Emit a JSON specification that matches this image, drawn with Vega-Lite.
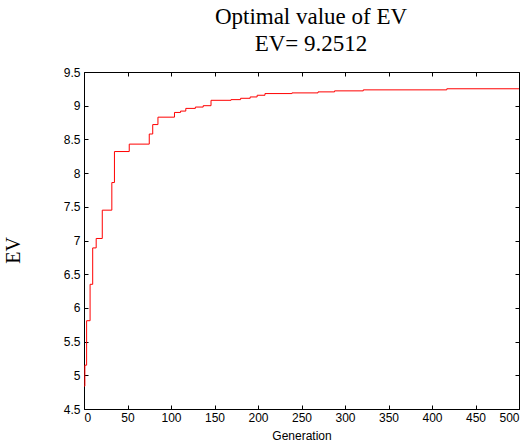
{
  "$schema": "https://vega.github.io/schema/vega-lite/v6.json",
  "width": 435,
  "height": 337,
  "autosize": {"type": "none"},
  "padding": {"left": 84, "top": 72, "right": 11, "bottom": 32},
  "background": "white",
  "title": {
    "text": ["Optimal value of EV", "EV= 9.2512"],
    "font": "Liberation Serif",
    "fontSize": 23,
    "fontWeight": "normal",
    "color": "black",
    "anchor": "middle",
    "dx": 9.5,
    "lineHeight": 27,
    "offset": 10
  },
  "config": {
    "view": {"stroke": null},
    "axis": {
      "domainColor": "black",
      "domainWidth": 1,
      "tickColor": "black",
      "tickSize": -4,
      "tickWidth": 1,
      "grid": false,
      "labelFont": "Liberation Sans",
      "labelFontSize": 12,
      "labelColor": "black",
      "titleColor": "black"
    }
  },
  "data": {
    "values": [
      {"generation": 0, "ev": 4.84},
      {"generation": 1, "ev": 5.15},
      {"generation": 3, "ev": 5.81},
      {"generation": 7, "ev": 6.35},
      {"generation": 10, "ev": 6.89},
      {"generation": 14, "ev": 7.03},
      {"generation": 21, "ev": 7.45},
      {"generation": 32, "ev": 7.86},
      {"generation": 35, "ev": 8.32},
      {"generation": 52, "ev": 8.43},
      {"generation": 75, "ev": 8.58},
      {"generation": 79, "ev": 8.72},
      {"generation": 85, "ev": 8.83},
      {"generation": 104, "ev": 8.9},
      {"generation": 111, "ev": 8.92},
      {"generation": 117, "ev": 8.96},
      {"generation": 128, "ev": 8.98},
      {"generation": 137, "ev": 9.0},
      {"generation": 146, "ev": 9.08},
      {"generation": 169, "ev": 9.09},
      {"generation": 180, "ev": 9.11},
      {"generation": 191, "ev": 9.13},
      {"generation": 199, "ev": 9.155},
      {"generation": 208, "ev": 9.18},
      {"generation": 239, "ev": 9.19},
      {"generation": 269, "ev": 9.205},
      {"generation": 288, "ev": 9.22},
      {"generation": 321, "ev": 9.235},
      {"generation": 417, "ev": 9.2512},
      {"generation": 500, "ev": 9.2512}
    ]
  },
  "layer": [
    {
      "mark": {"type": "line", "interpolate": "step-after", "color": "#ff0000", "strokeWidth": 1},
      "encoding": {
        "x": {
          "field": "generation",
          "type": "quantitative",
          "scale": {"domain": [0, 500], "nice": false, "zero": false},
          "axis": {
            "orient": "bottom",
            "values": [0, 50, 100, 150, 200, 250, 300, 350, 400, 450, 500],
            "format": "d",
            "labelPadding": 7,
            "title": "Generation",
            "titleFont": "Liberation Sans",
            "titleFontSize": 12,
            "titleFontWeight": "normal",
            "titleY": 30,
            "titleBaseline": "alphabetic"
          }
        },
        "y": {
          "field": "ev",
          "type": "quantitative",
          "scale": {"domain": [4.5, 9.5], "nice": false, "zero": false},
          "axis": {
            "orient": "left",
            "values": [4.5, 5, 5.5, 6, 6.5, 7, 7.5, 8, 8.5, 9, 9.5],
            "format": "~g",
            "labelPadding": 8,
            "title": "EV",
            "titleFont": "Liberation Serif",
            "titleFontSize": 20,
            "titleFontWeight": "normal",
            "titleAngle": -90,
            "titleX": -65,
            "titleY": 178,
            "titleAlign": "center",
            "titleBaseline": "alphabetic"
          }
        }
      }
    },
    {
      "mark": {"type": "line", "opacity": 0},
      "encoding": {
        "x": {
          "field": "generation",
          "type": "quantitative",
          "axis": {
            "orient": "top",
            "values": [0, 50, 100, 150, 200, 250, 300, 350, 400, 450, 500],
            "labels": false,
            "title": null
          }
        },
        "y": {
          "field": "ev",
          "type": "quantitative",
          "axis": {
            "orient": "right",
            "values": [4.5, 5, 5.5, 6, 6.5, 7, 7.5, 8, 8.5, 9, 9.5],
            "labels": false,
            "title": null
          }
        }
      }
    }
  ],
  "resolve": {"axis": {"x": "independent", "y": "independent"}}
}
